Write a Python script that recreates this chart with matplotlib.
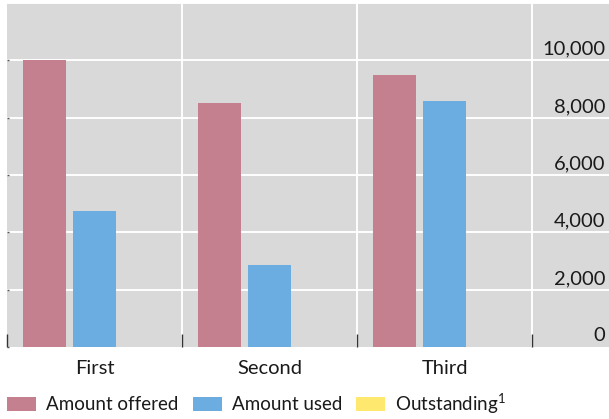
import matplotlib
matplotlib.use("Agg")
import matplotlib.pyplot as plt
import matplotlib.transforms as mtransforms
import numpy as np

plt.rcParams['font.family'] = ['Lato', 'DejaVu Sans']
plt.rcParams['mathtext.fontset'] = 'custom'
plt.rcParams['mathtext.rm'] = 'Lato'
plt.rcParams['mathtext.it'] = 'Lato:italic'
plt.rcParams['mathtext.bf'] = 'Lato:bold'

# Data
categories = ["First", "Second", "Third"]
amount_offered = [10000, 8500, 9500]
amount_used = [4750, 2860, 8570]
outstanding = [0, 0, 0]
y_ticks = [0, 2000, 4000, 6000, 8000, 10000]
y_tick_labels = ["0", "2,000", "4,000", "6,000", "8,000", "10,000"]
series_names = ["Amount offered", "Amount used", "Outstanding$^{1}$"]

colors = ["#c4808f", "#6badE0", "#ffe86e"]
bg = "#d9d9d9"
FS = 14.5
LEG_FS = 13.5

fig = plt.figure(figsize=(6.09, 4.19), dpi=100)
W, H = 609, 419
left_px, right_px, top_px, bottom_px = 7, 609, 3, 347
ax = fig.add_axes([left_px / W, (H - bottom_px) / H,
                   (right_px - left_px) / W, (bottom_px - top_px) / H])
ax.set_facecolor(bg)

cat_w_px = 175.0
x = np.arange(len(categories))
bar_w = 43 / cat_w_px
offset = 50 / cat_w_px

series = [amount_offered, amount_used, outstanding]
handles = []
for i, (vals, col, name) in enumerate(zip(series, colors, series_names)):
    b = ax.bar(x + (i - 1) * offset, vals, width=bar_w, color=col,
               label=name, zorder=3)
    handles.append(b)

ax.set_xlim(-0.5, -0.5 + (right_px - left_px) / cat_w_px)
ax.set_ylim(0, 12000)

# grid lines
for yv in y_ticks[1:] + [12000]:
    ax.axhline(yv, color="white", lw=1.4, zorder=1)
for xv in [0.5, 1.5, 2.5]:
    ax.axvline(xv, color="white", lw=1.4, zorder=1)

for s in ax.spines.values():
    s.set_visible(False)

# category labels and boundary ticks
ax.set_xticks(x)
ax.set_xticklabels(categories, fontsize=FS, color="#1a1a1a")
ax.tick_params(axis="x", which="major", length=0, pad=9)
ax.set_xticks([-0.5, 0.5, 1.5, 2.5], minor=True)
ax.tick_params(axis="x", which="minor", direction="in", length=9.5,
               width=1.0, color="#333333")

ax.set_yticks(y_ticks)
ax.set_yticklabels([])
ax.tick_params(axis="y", direction="in", length=1.5, width=1.0,
               color="#555555", left=True, right=False)

# value labels drawn inside the plot on the right
trans = mtransforms.blended_transform_factory(ax.transAxes, ax.transData)
for yv, lab in zip(y_ticks, y_tick_labels):
    ax.annotate(lab, xy=(1.0, yv), xycoords=trans,
                xytext=(-2.5, 4.0), textcoords="offset points",
                ha="right", va="baseline", fontsize=FS, color="#1a1a1a")

em = LEG_FS / 72 * 100
leg = fig.legend(handles=handles, labels=series_names, loc="lower left",
                 bbox_to_anchor=(0.0, -4.0 / H), ncol=3, frameon=False,
                 fontsize=LEG_FS, handlelength=29 / em, handleheight=15 / em,
                 handletextpad=10 / em, columnspacing=14 / em,
                 borderaxespad=0.1, borderpad=0.3)
for t in leg.get_texts():
    t.set_color("#1a1a1a")

fig.savefig("out.png", dpi=100)
